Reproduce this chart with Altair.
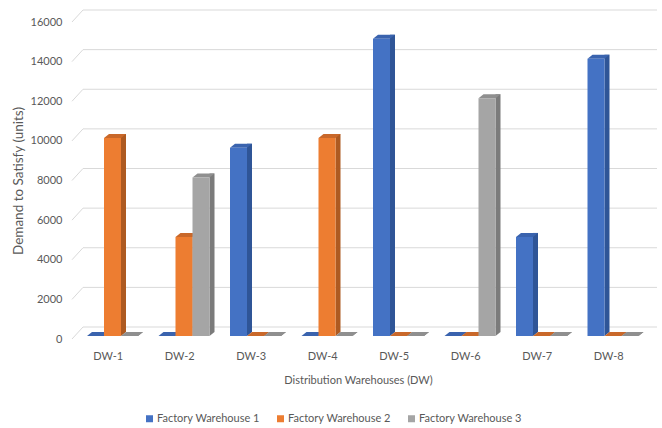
import altair as alt
import pandas as pd

# ---------------- data ----------------
warehouses = ["DW-1", "DW-2", "DW-3", "DW-4", "DW-5", "DW-6", "DW-7", "DW-8"]
series = ["Factory Warehouse 1", "Factory Warehouse 2", "Factory Warehouse 3"]
fw1 = [0, 0, 9500, 0, 15000, 0, 5000, 14000]
fw2 = [10000, 5000, 0, 10000, 0, 0, 0, 0]
fw3 = [0, 8000, 0, 0, 0, 12000, 0, 0]
y_ticks = [0, 2000, 4000, 6000, 8000, 10000, 12000, 14000, 16000]

rows = []
for s_idx, (name, vals) in enumerate(zip(series, [fw1, fw2, fw3])):
    for i, (dw, v) in enumerate(zip(warehouses, vals)):
        rows.append({"dw": dw, "series": name, "value": v, "i": i, "s": s_idx})
df = pd.DataFrame(rows)
grid_df = pd.DataFrame({"v": y_ticks})

# ---------------- style / layout ----------------
W, H = 572, 317
STEP = W / len(warehouses)
BAR = 17.0      # px, front width of a column
GAP0 = 15.0     # px, from band start to first column
DEPTH, RISE = 5, 4
LIFT = 3
BACK_DX, BACK_DY = 11, 12
FONT = "Lato"
TXT = "#595959"
GRID = "#D9D9D9"

front_cols = ["#4472C4", "#ED7D31", "#A5A5A5"]
side_cols = ["#2F5597", "#AE5A21", "#7B7B7B"]
top_cols = ["#3A63AE", "#C9682A", "#8F8F8F"]

xscale = alt.Scale(domain=[0, len(warehouses)], nice=False, zero=False)
yscale = alt.Scale(domain=[0, 16000], nice=False)

axX = alt.Axis(
    values=[i + 0.5 for i in range(len(warehouses))],
    labelExpr="'DW-' + (datum.value + 0.5)",
    grid=False, ticks=False, domain=False, labelPadding=11,
    title="Distribution Warehouses (DW)", titlePadding=13,
)
axY = alt.Axis(
    values=y_ticks, format="d", grid=False, ticks=False, domain=False, labelPadding=10,
    title="Demand to Satisfy (units)", titlePadding=5, titleFontSize=13.5,
)

base = alt.Chart(df).transform_calculate(
    x0=f"datum.i + {GAP0 / STEP} + datum.s * {BAR / STEP}",
    zero="0",
).transform_calculate(
    x1=f"datum.x0 + {BAR / STEP}"
)

# back-wall gridlines
grid = alt.Chart(grid_df).mark_rule(color=GRID, strokeWidth=1, yOffset=-BACK_DY).encode(
    y=alt.Y("v:Q", scale=yscale, axis=axY),
    x=alt.value(BACK_DX),
    x2=alt.value(W + 13),
)
diag = alt.Chart(grid_df).mark_rule(color=GRID, strokeWidth=1, y2Offset=-BACK_DY).encode(
    y=alt.Y("v:Q", scale=yscale, axis=axY),
    y2="v:Q",
    x=alt.value(0),
    x2=alt.value(BACK_DX),
)

# side faces: rect + bottom triangle
side_rect = base.mark_rect(x2Offset=DEPTH, yOffset=-LIFT - RISE, y2Offset=-LIFT - RISE).encode(
    x=alt.X("x1:Q", scale=xscale, axis=axX),
    x2="x1:Q",
    y=alt.Y("value:Q", scale=yscale, axis=axY),
    y2="zero:Q",
    color=alt.Color("series:N", scale=alt.Scale(domain=series, range=side_cols), legend=None),
)
side_tri = base.mark_point(
    shape=f"M0,-{RISE}L{DEPTH},-{RISE}L0,0Z", size=4, filled=True, opacity=1,
    strokeWidth=0, yOffset=-LIFT,
).encode(
    x=alt.X("x1:Q", scale=xscale, axis=axX),
    y=alt.Y("zero:Q", scale=yscale, axis=axY),
    color=alt.Color("series:N", scale=alt.Scale(domain=series, range=side_cols), legend=None),
)
top = base.mark_point(
    shape=f"M-{BAR},0L0,0L{DEPTH},-{RISE}L{DEPTH - BAR},-{RISE}Z", size=4, filled=True,
    opacity=1, strokeWidth=0, yOffset=-LIFT,
).encode(
    x=alt.X("x1:Q", scale=xscale, axis=axX),
    y=alt.Y("value:Q", scale=yscale, axis=axY),
    color=alt.Color("series:N", scale=alt.Scale(domain=series, range=top_cols), legend=None),
)
front = base.mark_rect(yOffset=-LIFT, y2Offset=-LIFT).encode(
    x=alt.X("x0:Q", scale=xscale, axis=axX),
    x2="x1:Q",
    y=alt.Y("value:Q", scale=yscale, axis=axY),
    y2="zero:Q",
    color=alt.Color(
        "series:N", scale=alt.Scale(domain=series, range=front_cols),
        legend=alt.Legend(
            orient="none", direction="horizontal", legendX=72, legendY=391,
            title=None, symbolType="square", symbolSize=49, symbolStrokeWidth=0,
            labelOffset=2, columnPadding=15, padding=0,
        ),
    ),
)

chart = alt.layer(grid, diag, side_rect, side_tri, top, front).resolve_scale(
    color="independent"
).properties(
    width=W, height=H,
    autosize=alt.AutoSizeParams(type="none"),
    padding={"left": 72, "top": 22, "right": 662 - 72 - W, "bottom": 428 - 22 - H},
    background="white",
).configure_view(stroke=None).configure_axis(
    labelFont=FONT, titleFont=FONT, labelFontSize=11, titleFontSize=11,
    labelColor=TXT, titleColor=TXT, titleFontWeight="normal",
).configure_legend(
    labelFont=FONT, labelFontSize=11, labelColor=TXT,
)

chart.save("out.html", embed_options={"renderer": "svg", "actions": False})
